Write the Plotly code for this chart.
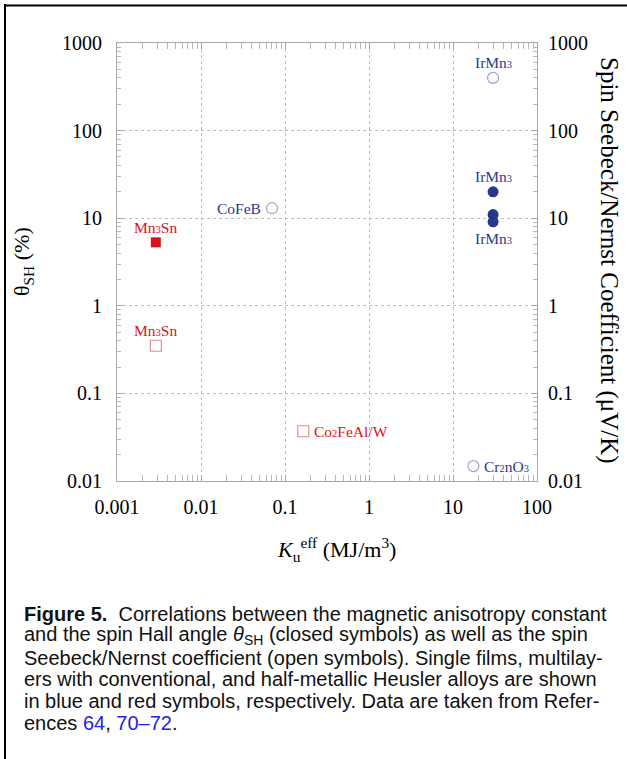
import math
import plotly.graph_objects as go

# ---- data ----
closed_blue_x = [30, 30, 30]
closed_blue_y = [20, 11, 9.1]
open_blue_x = [30, 0.07, 17.5]
open_blue_y = [400, 13, 0.0148]
closed_red_x = [0.0029]
closed_red_y = [5.3]
open_red_x = [0.0029, 0.165]
open_red_y = [0.35, 0.037]

x_tickvals = [0.001, 0.01, 0.1, 1, 10, 100]
x_ticktext = ["0.001", "0.01", "0.1", "1", "10", "100"]
y_tickvals = [0.01, 0.1, 1, 10, 100, 1000]
y_ticktext = ["0.01", "0.1", "1", "10", "100", "1000"]

SUB = "<span style='font-size:10.5px'>{}</span>"
labels = [
    # text, x, y, color, xshift, yshift, xanchor
    ("IrMn" + SUB.format("3"), 30, 400, "#2b3a8f", 0, 15, "center"),
    ("IrMn" + SUB.format("3"), 30, 20, "#2b3a8f", 0, 15, "center"),
    ("IrMn" + SUB.format("3"), 30, 9.1, "#2b3a8f", 0, -17, "center"),
    ("CoFeB", 0.07, 13, "#2b3a8f", -9, 0, "right"),
    ("Cr" + SUB.format("2") + "nO" + SUB.format("3"), 17.5, 0.0148, "#2b3a8f", 9, 0, "left"),
    ("Mn" + SUB.format("3") + "Sn", 0.0029, 5.3, "#e0101a", 0, 15, "center"),
    ("Mn" + SUB.format("3") + "Sn", 0.0029, 0.35, "#e0101a", 0, 15, "center"),
    ("Co" + SUB.format("2") + "FeAl/W", 0.165, 0.037, "#e0101a", 9, 0, "left"),
]

caption_lines = [
    "<b>Figure 5.</b>\u00a0 Correlations between the magnetic anisotropy constant",
    "and the spin Hall angle <i>θ</i><sub>SH</sub> (closed symbols) as well as the spin",
    "Seebeck/Nernst coefficient (open symbols). Single films, multilay-",
    "ers with conventional, and half-metallic Heusler alloys are shown",
    "in blue and red symbols, respectively. Data are taken from Refer-",
    "ences <span style='color:#2222ee'>64</span>, <span style='color:#2222ee'>70–72</span>.",
]

SERIF = "Liberation Serif"
SANS = "Liberation Sans"

fig = go.Figure()
fig.add_trace(go.Scatter(x=open_blue_x, y=open_blue_y, mode="markers",
                         marker=dict(symbol="circle-open", size=11, color="#9ea3d4",
                                     line=dict(width=1.2)), showlegend=False))
fig.add_trace(go.Scatter(x=closed_blue_x, y=closed_blue_y, mode="markers",
                         marker=dict(symbol="circle", size=11, color="#27398c"),
                         showlegend=False))
fig.add_trace(go.Scatter(x=open_red_x, y=open_red_y, mode="markers",
                         marker=dict(symbol="square-open", size=11, color="#ea8a90",
                                     line=dict(width=1.2)), showlegend=False))
fig.add_trace(go.Scatter(x=closed_red_x, y=closed_red_y, mode="markers",
                         marker=dict(symbol="square", size=10, color="#d9101c"),
                         showlegend=False))
# invisible trace for right axis
fig.add_trace(go.Scatter(x=[x_tickvals[0]], y=[y_tickvals[0]], yaxis="y2",
                         mode="markers", marker=dict(opacity=0), showlegend=False,
                         hoverinfo="skip"))

axis_common = dict(
    type="log",
    showline=True, linecolor="#a8a8a8", linewidth=1.2, mirror="allticks",
    showgrid=True, gridcolor="#bdbdbd", griddash="dot", gridwidth=1,
    ticks="inside", ticklen=6, tickcolor="#a8a8a8", tickwidth=1,
    minor=dict(ticks="inside", ticklen=4, tickcolor="#b8b8b8", showgrid=False,
               dtick="D1"),
    tickfont=dict(family=SERIF, size=20, color="black"),
    zeroline=False,
    ticklabelstandoff=8,
)

fig.update_layout(
    width=627, height=759,
    margin=dict(l=117, r=90, t=43, b=278),
    paper_bgcolor="white", plot_bgcolor="white",
    xaxis=dict(axis_common, range=[-3, 2], tickvals=x_tickvals, ticktext=x_ticktext),
    yaxis=dict(axis_common, range=[-2, 3], tickvals=y_tickvals, ticktext=y_ticktext,
               ticklabelstandoff=10),
    yaxis2=dict(type="log", overlaying="y", side="right", range=[-2, 3],
                tickvals=y_tickvals, ticktext=y_ticktext, showgrid=False,
                showline=False, ticks="", zeroline=False,
                tickfont=dict(family=SERIF, size=20, color="black"),
                ticklabelstandoff=10),
)

anns = []
for text, x, y, color, xs, ys, xa in labels:
    anns.append(dict(text=text, x=math.log10(x), y=math.log10(y), xref="x", yref="y",
                     showarrow=False, xshift=xs, yshift=ys, xanchor=xa,
                     yanchor="middle",
                     font=dict(family=SERIF, size=15.5, color=color)))


def px_x(px):
    return (px - 117) / 420


def px_y(py):
    return (481 - py) / 438


anns.append(dict(text="θ<sub>SH</sub> (%)", x=px_x(23), y=px_y(262), xref="paper",
                 yref="paper", showarrow=False, textangle=-90, xanchor="center",
                 yanchor="middle",
                 font=dict(family=SERIF, size=22, color="black")))
anns.append(dict(text="Spin Seebeck/Nernst Coefficient (μV/K)", x=px_x(609), y=px_y(260),
                 xref="paper", yref="paper", showarrow=False, textangle=90,
                 xanchor="center", yanchor="middle",
                 font=dict(family=SERIF, size=25, color="black")))
anns.append(dict(text="<i>K</i><sub>u</sub><sup>eff</sup> (MJ/m<sup>3</sup>)", x=px_x(336),
                 y=px_y(549), xref="paper", yref="paper", showarrow=False,
                 xanchor="center", yanchor="middle",
                 font=dict(family=SERIF, size=22, color="black")))

for i, line in enumerate(caption_lines):
    anns.append(dict(text=line, x=px_x(22), y=px_y(614 + 21.8 * i), xref="paper",
                     yref="paper", xanchor="left", yanchor="middle", showarrow=False,
                     font=dict(family=SANS, size=20, color="#111111")))

fig.update_layout(annotations=anns)

fig.update_layout(shapes=[
    dict(type="line", xref="paper", yref="paper", x0=px_x(5), x1=px_x(5),
         y0=px_y(4), y1=px_y(800), line=dict(color="black", width=2)),
    dict(type="line", xref="paper", yref="paper", x0=px_x(4), x1=px_x(700),
         y0=px_y(5.5), y1=px_y(5.5), line=dict(color="black", width=2)),
])

fig.write_html("out.html", config={"displayModeBar": False},
               post_script="document.body.style.margin='0';document.body.style.padding='0';")
